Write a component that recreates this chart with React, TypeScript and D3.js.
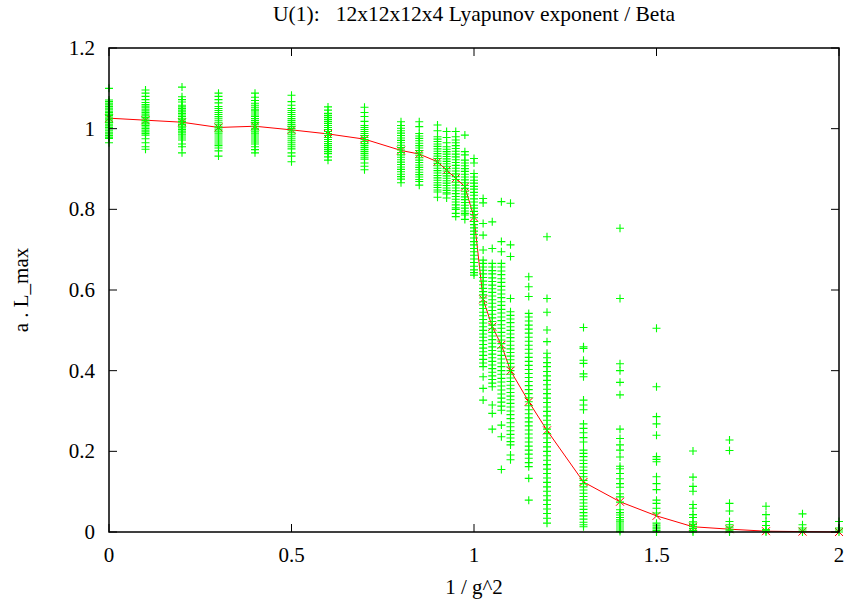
import React from "react";
import * as d3 from "d3";

// ---- data ----
const betas: number[] = [
  0, 0.1, 0.2, 0.3, 0.4, 0.5, 0.6, 0.7, 0.8, 0.85, 0.9, 0.925, 0.95, 0.975,
  1.0, 1.025, 1.05, 1.075, 1.1, 1.15, 1.2, 1.3, 1.4, 1.5, 1.6, 1.7, 1.8, 1.9, 2.0,
];

const means: number[] = [
  1.026, 1.021, 1.016, 1.003, 1.006, 0.997, 0.987, 0.974, 0.946, 0.937, 0.918,
  0.897, 0.877, 0.856, 0.78, 0.577, 0.509, 0.464, 0.4, 0.323, 0.252, 0.124,
  0.075, 0.04, 0.013, 0.007, 0.002, 0.001, 0.0,
];

const s000 = [1.100, 1.071, 1.067, 1.063, 1.059, 1.055, 1.051, 1.047, 1.043, 1.040, 1.036, 1.033, 1.029, 1.026, 1.022, 1.019, 1.015, 1.011, 1.007, 1.003, 0.999, 0.995, 0.991, 0.987, 0.983, 0.979, 0.976, 0.965];
const s010 = [1.096, 1.088, 1.080, 1.072, 1.065, 1.060, 1.056, 1.052, 1.048, 1.044, 1.040, 1.036, 1.032, 1.028, 1.024, 1.020, 1.016, 1.012, 1.008, 1.004, 1.000, 0.996, 0.992, 0.988, 0.984, 0.975, 0.965, 0.955, 0.949];
const s020 = [1.103, 1.079, 1.072, 1.066, 1.058, 1.054, 1.050, 1.046, 1.042, 1.038, 1.034, 1.030, 1.026, 1.022, 1.018, 1.014, 1.010, 1.006, 1.002, 0.998, 0.994, 0.990, 0.986, 0.982, 0.977, 0.972, 0.962, 0.955, 0.940];
const s030 = [1.088, 1.080, 1.072, 1.064, 1.055, 1.050, 1.045, 1.040, 1.035, 1.030, 1.026, 1.021, 1.016, 1.011, 1.006, 1.002, 0.997, 0.992, 0.987, 0.982, 0.977, 0.972, 0.967, 0.962, 0.958, 0.952, 0.945, 0.932];
const s040 = [1.088, 1.078, 1.070, 1.063, 1.058, 1.053, 1.048, 1.044, 1.039, 1.034, 1.030, 1.025, 1.020, 1.015, 1.011, 1.006, 1.001, 0.997, 0.992, 0.987, 0.982, 0.977, 0.972, 0.967, 0.962, 0.955, 0.948, 0.940];
const s050 = [1.083, 1.067, 1.058, 1.050, 1.045, 1.040, 1.035, 1.030, 1.025, 1.020, 1.015, 1.010, 1.005, 1.000, 0.995, 0.990, 0.985, 0.980, 0.975, 0.970, 0.965, 0.960, 0.955, 0.950, 0.940, 0.932, 0.918];
const s060 = [1.054, 1.046, 1.038, 1.033, 1.028, 1.023, 1.018, 1.013, 1.008, 1.003, 0.998, 0.993, 0.988, 0.983, 0.978, 0.973, 0.968, 0.963, 0.958, 0.953, 0.948, 0.943, 0.938, 0.930, 0.922];
const s070 = [1.053, 1.040, 1.030, 1.018, 1.008, 1.003, 0.998, 0.993, 0.988, 0.983, 0.978, 0.973, 0.968, 0.963, 0.958, 0.953, 0.948, 0.943, 0.938, 0.933, 0.928, 0.924, 0.915, 0.907, 0.898];
const s080 = [1.017, 1.008, 1.001, 0.995, 0.989, 0.983, 0.977, 0.971, 0.965, 0.959, 0.953, 0.947, 0.941, 0.935, 0.929, 0.923, 0.917, 0.911, 0.905, 0.899, 0.893, 0.887, 0.881, 0.875, 0.866];
const s085 = [1.017, 1.005, 0.988, 0.982, 0.976, 0.970, 0.964, 0.958, 0.952, 0.946, 0.940, 0.934, 0.928, 0.922, 0.916, 0.910, 0.904, 0.898, 0.892, 0.886, 0.880, 0.874, 0.869, 0.860];
const s090 = [1.009, 0.995, 0.980, 0.974, 0.968, 0.962, 0.956, 0.950, 0.944, 0.938, 0.932, 0.926, 0.920, 0.914, 0.908, 0.902, 0.896, 0.890, 0.884, 0.878, 0.872, 0.866, 0.860, 0.854, 0.848, 0.843, 0.830];
const s0925 = [0.993, 0.978, 0.965, 0.955, 0.949, 0.943, 0.937, 0.931, 0.925, 0.919, 0.913, 0.907, 0.901, 0.895, 0.889, 0.883, 0.877, 0.871, 0.865, 0.859, 0.853, 0.847, 0.841, 0.838, 0.828];
const s095 = [0.993, 0.980, 0.972, 0.965, 0.958, 0.951, 0.944, 0.937, 0.930, 0.923, 0.916, 0.909, 0.902, 0.895, 0.888, 0.881, 0.874, 0.867, 0.860, 0.853, 0.846, 0.839, 0.832, 0.825, 0.818, 0.811, 0.804, 0.800, 0.790, 0.782];
const s0975 = [0.984, 0.943, 0.935, 0.922, 0.915, 0.908, 0.901, 0.894, 0.887, 0.880, 0.873, 0.866, 0.859, 0.852, 0.845, 0.838, 0.831, 0.824, 0.817, 0.810, 0.803, 0.796, 0.790, 0.786, 0.775];
const s100 = [0.926, 0.915, 0.889, 0.880, 0.872, 0.865, 0.857, 0.850, 0.842, 0.835, 0.826, 0.818, 0.810, 0.803, 0.795, 0.787, 0.779, 0.770, 0.762, 0.754, 0.746, 0.738, 0.729, 0.720, 0.712, 0.703, 0.695, 0.686, 0.677, 0.668, 0.659, 0.650, 0.643, 0.637];
const s1025 = [0.827, 0.816, 0.765, 0.736, 0.699, 0.674, 0.666, 0.657, 0.649, 0.640, 0.631, 0.622, 0.613, 0.604, 0.596, 0.588, 0.580, 0.571, 0.563, 0.554, 0.545, 0.536, 0.527, 0.518, 0.509, 0.500, 0.491, 0.483, 0.474, 0.465, 0.456, 0.447, 0.438, 0.428, 0.419, 0.410, 0.385, 0.356, 0.327];
const s105 = [0.769, 0.703, 0.666, 0.657, 0.648, 0.640, 0.630, 0.621, 0.612, 0.603, 0.594, 0.585, 0.576, 0.567, 0.558, 0.549, 0.540, 0.531, 0.522, 0.513, 0.504, 0.495, 0.486, 0.477, 0.468, 0.459, 0.450, 0.441, 0.432, 0.423, 0.414, 0.405, 0.396, 0.387, 0.378, 0.369, 0.360, 0.315, 0.294, 0.255];
const s1075 = [0.819, 0.720, 0.695, 0.666, 0.657, 0.647, 0.638, 0.628, 0.619, 0.609, 0.600, 0.590, 0.581, 0.571, 0.562, 0.552, 0.543, 0.533, 0.524, 0.514, 0.505, 0.495, 0.486, 0.476, 0.467, 0.457, 0.448, 0.438, 0.429, 0.419, 0.410, 0.400, 0.391, 0.381, 0.372, 0.362, 0.352, 0.342, 0.332, 0.322, 0.312, 0.302, 0.265, 0.236, 0.155];
const s110 = [0.815, 0.712, 0.683, 0.579, 0.546, 0.537, 0.528, 0.519, 0.509, 0.500, 0.491, 0.482, 0.473, 0.463, 0.454, 0.445, 0.436, 0.427, 0.418, 0.409, 0.400, 0.391, 0.382, 0.373, 0.364, 0.355, 0.346, 0.337, 0.328, 0.319, 0.310, 0.300, 0.291, 0.281, 0.271, 0.261, 0.251, 0.242, 0.233, 0.224, 0.216, 0.191, 0.179];
const s115 = [0.633, 0.608, 0.584, 0.542, 0.533, 0.523, 0.513, 0.503, 0.493, 0.483, 0.473, 0.463, 0.453, 0.443, 0.433, 0.423, 0.413, 0.403, 0.393, 0.383, 0.373, 0.363, 0.353, 0.343, 0.333, 0.323, 0.313, 0.303, 0.293, 0.283, 0.273, 0.263, 0.253, 0.243, 0.233, 0.223, 0.213, 0.203, 0.193, 0.183, 0.172, 0.162, 0.133, 0.079];
const s120 = [0.732, 0.579, 0.545, 0.501, 0.472, 0.443, 0.432, 0.420, 0.410, 0.398, 0.387, 0.376, 0.365, 0.354, 0.343, 0.332, 0.321, 0.310, 0.299, 0.288, 0.277, 0.266, 0.255, 0.244, 0.233, 0.222, 0.211, 0.200, 0.189, 0.178, 0.167, 0.156, 0.145, 0.134, 0.123, 0.112, 0.101, 0.090, 0.079, 0.068, 0.057, 0.046, 0.034, 0.022];
const s130 = [0.507, 0.459, 0.455, 0.426, 0.418, 0.392, 0.385, 0.327, 0.315, 0.303, 0.268, 0.257, 0.246, 0.234, 0.223, 0.203, 0.195, 0.187, 0.178, 0.170, 0.161, 0.153, 0.145, 0.137, 0.128, 0.120, 0.112, 0.104, 0.096, 0.088, 0.080, 0.072, 0.064, 0.056, 0.048, 0.040, 0.032, 0.024, 0.018, 0.013];
const s140 = [0.753, 0.579, 0.417, 0.400, 0.371, 0.340, 0.255, 0.232, 0.216, 0.203, 0.186, 0.163, 0.157, 0.145, 0.132, 0.120, 0.111, 0.095, 0.087, 0.074, 0.055, 0.048, 0.042, 0.036, 0.030, 0.025, 0.020, 0.015, 0.010, 0.005, 0.001];
const s150 = [0.505, 0.360, 0.286, 0.268, 0.240, 0.187, 0.180, 0.174, 0.137, 0.120, 0.105, 0.079, 0.071, 0.059, 0.047, 0.022, 0.017, 0.012, 0.008, 0.004, 0.0];
const s160 = [0.201, 0.136, 0.113, 0.101, 0.068, 0.059, 0.043, 0.036, 0.025, 0.019, 0.014, 0.009, 0.004, 0.0];
const s170 = [0.228, 0.202, 0.071, 0.052, 0.026, 0.018, 0.012, 0.007, 0.003, 0.0];
const s180 = [0.064, 0.043, 0.026, 0.016, 0.006, 0.003, 0.0];
const s190 = [0.045, 0.018, 0.010, 0.005, 0.0];
const s200 = [0.026, 0.010, 0.005, 0.0];

const samples: number[][] = [
  s000, s010, s020, s030, s040, s050, s060, s070, s080, s085, s090, s0925, s095, s0975,
  s100, s1025, s105, s1075, s110, s115, s120, s130, s140, s150, s160, s170, s180, s190, s200,
];

const xTicks = [0, 0.5, 1, 1.5, 2];
const yTicks = [0, 0.2, 0.4, 0.6, 0.8, 1, 1.2];
const title = "U(1):   12x12x12x4 Lyapunov exponent / Beta";
const xLabel = "1 / g^2";
const yLabel = "a . L_max";

// ---- layout ----
const W = 849;
const H = 604;
const L = 109;
const R = 839;
const T = 48;
const B = 532;
const FONT = "'Liberation Serif', 'Times New Roman', serif";
const FS = 21;
const TICK = 8;
const PS = 4;

export default function App() {
  const x = d3.scaleLinear().domain([0, 2]).range([L, R]);
  const y = d3.scaleLinear().domain([0, 1.2]).range([B, T]);
  const line = d3
    .line<number>()
    .x((_, i) => x(betas[i]))
    .y((d) => y(d));

  const pts: { bx: number; v: number }[] = [];
  samples.forEach((col, i) => col.forEach((v) => pts.push({ bx: betas[i], v })));

  return (
    <svg
      width={W}
      height={H}
      style={{ position: "absolute", left: 0, top: 0, background: "#fff" }}
      fontFamily={FONT}
    >
      <rect x={0} y={0} width={W} height={H} fill="#fff" />
      {/* mean line (plotted first) */}
      <path d={line(means) || ""} fill="none" stroke="#ff0000" strokeWidth={1} />
      {means.map((m, i) => {
        const cx = x(betas[i]);
        const cy = y(m);
        return (
          <path
            key={"m" + i}
            d={`M${cx - PS},${cy - PS}L${cx + PS},${cy + PS}M${cx - PS},${cy + PS}L${cx + PS},${cy - PS}`}
            stroke="#ff0000"
            strokeWidth={1}
            fill="none"
          />
        );
      })}
      {/* samples */}
      <g stroke="#00ff00" strokeWidth={1.1} fill="none">
        {pts.map((p, i) => {
          const cx = x(p.bx);
          const cy = y(p.v);
          return (
            <path key={"p" + i} d={`M${cx - PS},${cy}H${cx + PS}M${cx},${cy - PS}V${cy + PS}`} />
          );
        })}
      </g>
      {/* border */}
      <rect x={L} y={T} width={R - L} height={B - T} fill="none" stroke="#000" strokeWidth={1.5} />
      {/* ticks */}
      <g stroke="#000" strokeWidth={1}>
        {xTicks.map((t) => (
          <g key={"xt" + t}>
            <line x1={x(t)} x2={x(t)} y1={B} y2={B - TICK} />
            <line x1={x(t)} x2={x(t)} y1={T} y2={T + TICK} />
          </g>
        ))}
        {yTicks.map((t) => (
          <g key={"yt" + t}>
            <line x1={L} x2={L + TICK} y1={y(t)} y2={y(t)} />
            <line x1={R} x2={R - TICK} y1={y(t)} y2={y(t)} />
          </g>
        ))}
      </g>
      <g fontSize={FS} fill="#000">
        {xTicks.map((t) => (
          <text key={"xl" + t} x={x(t)} y={B + 30} textAnchor="middle">
            {d3.format("~g")(t)}
          </text>
        ))}
        {yTicks.map((t) => (
          <text key={"yl" + t} x={L - 14} y={y(t) + 7} textAnchor="end">
            {d3.format("~g")(t)}
          </text>
        ))}
        <text x={474} y={21} textAnchor="middle" fontSize={21.5} style={{ whiteSpace: "pre" }}>
          {title}
        </text>
        <text x={(L + R) / 2} y={594} textAnchor="middle">
          {xLabel}
        </text>
        <text
          transform={`translate(28, ${(T + B) / 2}) rotate(-90)`}
          textAnchor="middle"
        >
          {yLabel}
        </text>
      </g>
    </svg>
  );
}
